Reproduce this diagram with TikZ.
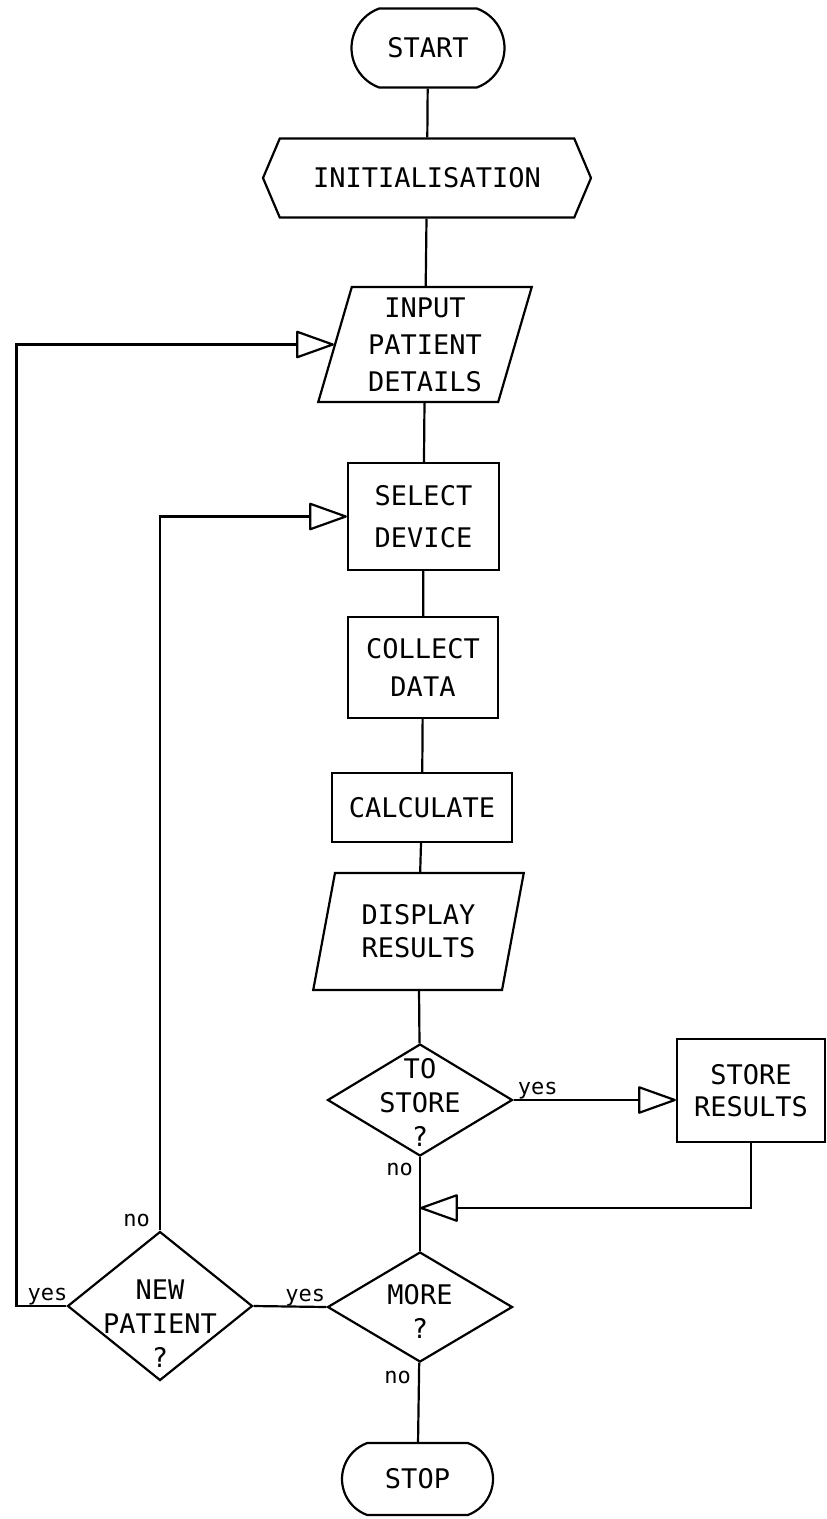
\documentclass[tikz,border=0pt]{standalone}
\usepackage{fontspec}
\usepackage{tikz}
\usetikzlibrary{shapes.geometric}
\usetikzlibrary{shapes.misc}
\usetikzlibrary{shapes.symbols}
\usetikzlibrary{arrows.meta}
\newfontfamily\plotterfont{DejaVu Sans Mono}
\tikzset{
    box/.style={
        draw, line width=2.2pt, inner sep=0pt, align=center,
        font=\plotterfont\fontsize{27}{36}\selectfont
    },
    skip/.style={font=\plotterfont\fontsize{27}{#1}\selectfont},
    terminal/.style={
        box, rounded rectangle, rounded rectangle arc length=140,
        minimum width=153pt, minimum height=#1
    },
    terminal/.default=79pt,
    process/.style={box, rectangle},
    io/.style={
        box, trapezium, trapezium left angle=74.5, trapezium right angle=105.5,
        trapezium stretches=true
    },
    decision/.style={box, diamond, minimum width=185pt, minimum height=#1},
    decision/.default=112pt,
    qtext/.style={inner sep=0pt, align=center, font=\plotterfont\fontsize{27}{34}\selectfont},
    lbl/.style={inner sep=0pt, font=\plotterfont\fontsize{22}{24}\selectfont},
    line/.style={line width=2.2pt},
    flow/.style={line width=2.2pt, -{Triangle[open, length=40pt, width=28pt, round]}}
}

\begin{document}
\begin{tikzpicture}[x=1pt, y=-1pt]
		% page
		\path[use as bounding box, fill=white] (0,0) rectangle (827,1519);

		% main column
		\node[terminal] (start) at (428,48) {START};
		\node[box, signal, signal to=west and east, signal pointer angle=134,
			minimum width=328pt, minimum height=79pt] (init) at (427,178) {INITIALISATION};
		\node[io, skip=37, minimum width=214pt, minimum height=115pt] (input) at (425,344.5) {INPUT\\PATIENT\\DETAILS};
		\node[process, skip=42, minimum width=151pt, minimum height=107pt] (select) at (423.5,516.5) {SELECT\\DEVICE};
		\node[process, skip=38, minimum width=150pt, minimum height=101pt] (collect) at (423,667.5) {COLLECT\\DATA};
		\node[process, minimum width=180pt, minimum height=69pt] (calc) at (422,807.5) {CALCULATE};
		\node[io, skip=33, minimum width=211pt, minimum height=117pt] (display) at (418.5,931.5) {DISPLAY\\RESULTS};

		% decisions
		\node[decision, label={[qtext, yshift=-2pt]center:{TO\\STORE\\?}}] (tostore) at (420,1100) {};
		\node[process, skip=32, minimum width=148pt, minimum height=103pt] (store) at (751,1090.5) {STORE\\RESULTS};
		\coordinate (merge) at (420,1208);
		\node[decision=110pt, label={[qtext, yshift=-4pt]center:{MORE\\?}}] (more) at (420,1307) {};
		\node[terminal=72pt, minimum width=151pt] (stop) at (417.5,1479) {STOP};
		\node[decision=149pt, label={[qtext, yshift=-18pt]center:{NEW\\PATIENT\\?}}] (newpat) at (160,1306) {};

		% straight flow
		\draw[line] (start) -- (init);
		\draw[line] (init) -- (input);
		\draw[line] (input) -- (select);
		\draw[line] (select) -- (collect);
		\draw[line] (collect) -- (calc);
		\draw[line] (calc) -- (display);
		\draw[line] (display) -- (tostore);
		\draw[line] (tostore) -- (more);
		\draw[line] (more) -- (stop);
		\draw[line] (more.west) -- (newpat.east);

		% branches and loops
		\draw[flow] (tostore.east) -- (tostore.east -| store.west);
		\draw[flow] (store.south) |- (merge);
		\draw[flow] (newpat.north) |- (select.west);
		\draw[flow] (newpat.west) -- ++(-50,0) |- (input.west);

		% yes / no
		\node[lbl, anchor=base west, xshift=4pt, yshift=6pt] (yesstore) at (tostore.east) {yes};
		\node[lbl, anchor=north east, xshift=-7pt, yshift=-6pt] (nostore) at (tostore.south) {no};
		\node[lbl, anchor=north east, xshift=-9pt, yshift=-8pt] (nomore) at (more.south) {no};
		\node[lbl, anchor=base east, xshift=-1pt, yshift=6pt] (yesmore) at (more.west) {yes};
		\node[lbl, anchor=base west, xshift=-39pt, yshift=6pt] (yesnew) at (newpat.west) {yes};
		\node[lbl, anchor=base east, xshift=-10pt, yshift=4pt] (nonew) at (newpat.north) {no};

	\end{tikzpicture}
\end{document}
